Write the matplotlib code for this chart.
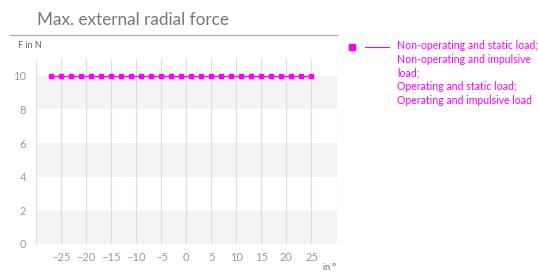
import matplotlib
matplotlib.use('Agg')
import matplotlib.pyplot as plt
from matplotlib.lines import Line2D

plt.rcParams['font.family'] = ['Lato', 'DejaVu Sans']

# data
winkel = [-27, -25, -23, -21, -19, -17, -15, -13, -11, -9, -7, -5, -3, -1,
          1, 3, 5, 7, 9, 11, 13, 15, 17, 19, 21, 23, 25]
kraft = [10] * len(winkel)
xticks = [-25, -20, -15, -10, -5, 0, 5, 10, 15, 20, 25]
yticks = [0, 2, 4, 6, 8, 10]
legenda = 'Non-operating and static load;\nNon-operating and impulsive\nload;\nOperating and static load;\nOperating and impulsive load'

cor = '#ff00ff'
cinza = '#999999'

fig = plt.figure(figsize=(5.38, 2.72), dpi=100)
ax = fig.add_axes([36/538, 28/272, 300.5/538, 185/272])

# faixas cinza
for y0 in [0, 4, 8]:
    ax.axhspan(y0, y0 + 2, color='#f4f4f4', zorder=0, lw=0)
for xv in range(-30, 31, 5):
    ax.axvline(xv, color='#dddddd', lw=0.8, zorder=1)

ax.plot(winkel, kraft, color=cor, lw=1, marker='s', markersize=3.2, zorder=3)

ax.set_xlim(-30, 30)
ax.set_ylim(0, 11)
ax.set_xticks(xticks)
ax.set_yticks(yticks)
ax.tick_params(length=0, labelsize=8, labelcolor=cinza, pad=6)
ax.tick_params(axis='y', pad=7)
for s in ax.spines.values():
    s.set_visible(False)

# titulo e linha
fig.text(37/538, 1 - 20/272, 'Max. external radial force', fontsize=12.3,
         color='#777777', va='center', ha='left')
fig.add_artist(Line2D([10/538, 337/538], [1 - 35/272, 1 - 35/272],
                      color='#aaaaaa', lw=0.9))
fig.text(18/538, 1 - 45.5/272, 'F in N', fontsize=6.5, color='#666666',
         va='center', ha='left')
fig.text(330/538, 1 - 268/272, 'in °', fontsize=6.5, color='#666666',
         va='center', ha='center')

# legenda
fig.add_artist(Line2D([352/538], [1 - 46.5/272], marker='s', markersize=4.5,
                      color=cor, lw=0))
fig.add_artist(Line2D([365/538, 389/538], [1 - 46.5/272, 1 - 46.5/272],
                      color=cor, lw=0.8))
fig.text(397/538, 1 - 40/272, legenda, fontsize=7.6, color=cor,
         va='top', ha='left', linespacing=1.3)

fig.savefig('out.png', dpi=100)
